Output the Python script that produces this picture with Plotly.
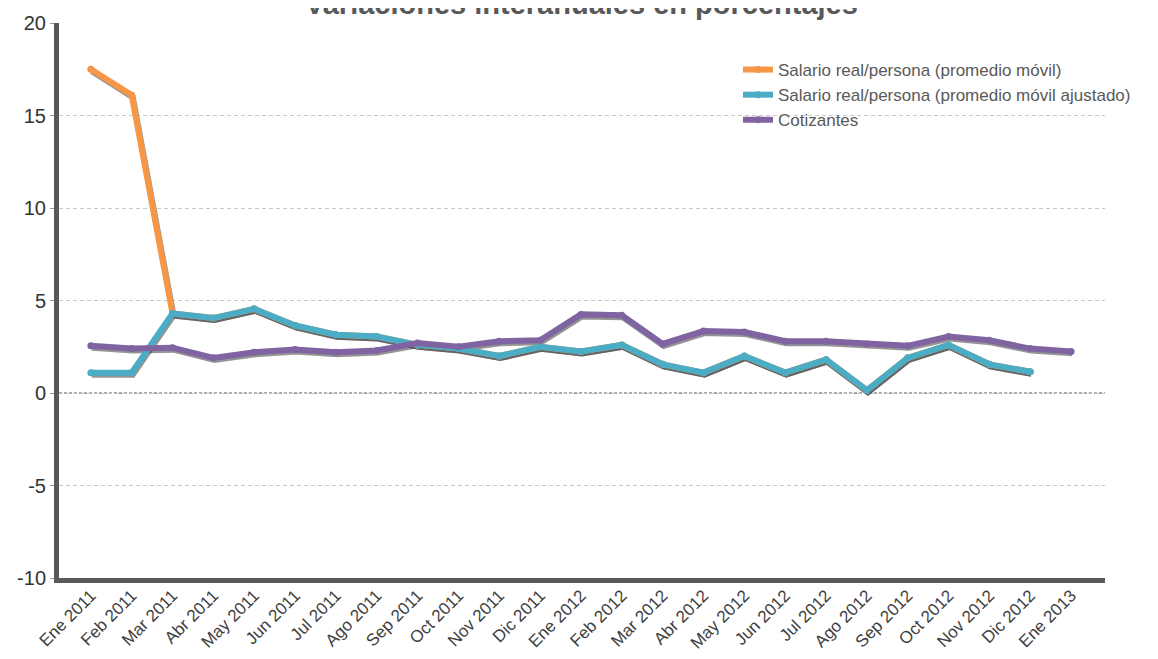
import plotly.graph_objects as go

months = ["Ene 2011", "Feb 2011", "Mar 2011", "Abr 2011", "May 2011", "Jun 2011",
          "Jul 2011", "Ago 2011", "Sep 2011", "Oct 2011", "Nov 2011", "Dic 2011",
          "Ene 2012", "Feb 2012", "Mar 2012", "Abr 2012", "May 2012", "Jun 2012",
          "Jul 2012", "Ago 2012", "Sep 2012", "Oct 2012", "Nov 2012", "Dic 2012",
          "Ene 2013"]

salario_movil = [17.5, 16.1, 4.3, 4.05, 4.55, 3.65, 3.15, 3.05, 2.6, 2.4, 2.0, 2.5,
                 2.25, 2.6, 1.55, 1.1, 2.0, 1.1, 1.8, 0.15, 1.9, 2.6, 1.55, 1.15, None]
salario_ajustado = [1.1, 1.1, 4.3, 4.05, 4.55, 3.65, 3.15, 3.05, 2.6, 2.4, 2.0, 2.5,
                    2.25, 2.6, 1.55, 1.1, 2.0, 1.1, 1.8, 0.15, 1.9, 2.6, 1.55, 1.15, None]
cotizantes = [2.55, 2.4, 2.45, 1.9, 2.2, 2.35, 2.2, 2.3, 2.7, 2.5, 2.8, 2.85,
              4.25, 4.2, 2.65, 3.35, 3.3, 2.8, 2.8, 2.65, 2.55, 3.05, 2.85, 2.4, 2.25]

y_tickvals = [-10, -5, 0, 5, 10, 15, 20]
y_ticktext = ["-10", "-5", "0", "5", "10", "15", "20"]

title_text = "Variaciones interanuales en porcentajes"

series = [
    ("Salario real/persona (promedio móvil)", salario_movil, "#F79646"),
    ("Salario real/persona (promedio móvil ajustado)", salario_ajustado, "#4BACC6"),
    ("Cotizantes", cotizantes, "#8064A2"),
]

# page body has an 8px default margin -> figure is drawn 8px right/down
OFF = 8
W, H = 1158 - OFF, 659 - OFF
L, R, T, B = 59 - OFF, 1158 - 1105, 23 - OFF, 659 - 578
plot_w = W - L - R
plot_h = H - T - B
xr = [-0.78, 24.83]
yr = [-10, 20]
dx = (xr[1] - xr[0]) / plot_w * 1.0   # shadow shift right (1px)
dy = (yr[1] - yr[0]) / plot_h * 2.0   # shadow shift down (2px)

FONT = "Liberation Sans, Arial, sans-serif"

fig = go.Figure()

# invisible trace establishing the base category axis
fig.add_trace(go.Scatter(x=months, y=cotizantes, mode="lines", line=dict(width=0),
                         opacity=0, showlegend=False, hoverinfo="skip",
                         xaxis="x", yaxis="y"))

# shadows
for name, vals, col in series:
    fig.add_trace(go.Scatter(x=months, y=vals, mode="lines",
                             line=dict(color="rgba(60,60,60,0.55)", width=6),
                             showlegend=False, hoverinfo="skip",
                             xaxis="x2", yaxis="y2"))

# main series
for name, vals, col in series:
    fig.add_trace(go.Scatter(x=months, y=vals, name=name, mode="lines+markers",
                             line=dict(color=col, width=6),
                             marker=dict(color=col, size=7, symbol="circle"),
                             xaxis="x3", yaxis="y3"))

cat = dict(type="category", categoryorder="array", categoryarray=months)

# title centre at ~4px (page coords), partly cut off as in the reference
title_center_fig = 4 - OFF
title_y_paper = 1 + (T - title_center_fig) / plot_h

fig.update_layout(
    width=W, height=H,
    margin=dict(l=L, r=R, t=T, b=B, pad=0, autoexpand=False),
    paper_bgcolor="white", plot_bgcolor="white",
    font=dict(family=FONT, color="#404040"),
    annotations=[dict(text="<b>" + title_text + "</b>", showarrow=False,
                      xref="paper", yref="paper",
                      x=(581 - OFF - L) / plot_w, xanchor="center",
                      y=title_y_paper, yanchor="middle",
                      font=dict(family=FONT, size=29, color="#595959"))],
    xaxis=dict(**cat, range=xr, showline=True, linewidth=5, linecolor="#595959",
               showgrid=False, zeroline=False, ticks="", tickangle=-45,
               ticklabelstandoff=-4,
               tickfont=dict(family=FONT, size=17, color="#404040")),
    yaxis=dict(range=yr, tickmode="array", tickvals=y_tickvals, ticktext=y_ticktext,
               showline=True, linewidth=5,
               linecolor="#595959", showgrid=True, gridcolor="#C8C8C8",
               griddash="4px,3px", gridwidth=1, zeroline=False,
               ticks="outside", ticklen=4, tickcolor="#999999",
               tickfont=dict(family=FONT, size=20, color="#333333")),
    xaxis2=dict(**cat, range=[xr[0] - dx, xr[1] - dx], overlaying="x",
                visible=False),
    yaxis2=dict(range=[yr[0] + dy, yr[1] + dy], overlaying="y", visible=False),
    xaxis3=dict(**cat, range=xr, overlaying="x", visible=False),
    yaxis3=dict(range=yr, overlaying="y", visible=False),
    legend=dict(xref="container", yref="container", x=730 / W, y=1 - 44 / H,
                xanchor="left", yanchor="top", bgcolor="rgba(0,0,0,0)",
                font=dict(family=FONT, size=17, color="#595959"),
                tracegroupgap=0, itemwidth=30),
    shapes=[dict(type="line", xref="paper", x0=0, x1=1, yref="y", y0=0, y1=0,
                 line=dict(color="#8C8C8C", width=1.5, dash="3px,2px"),
                 layer="below")],
    hovermode=False,
)

fig.write_html("out.html")
